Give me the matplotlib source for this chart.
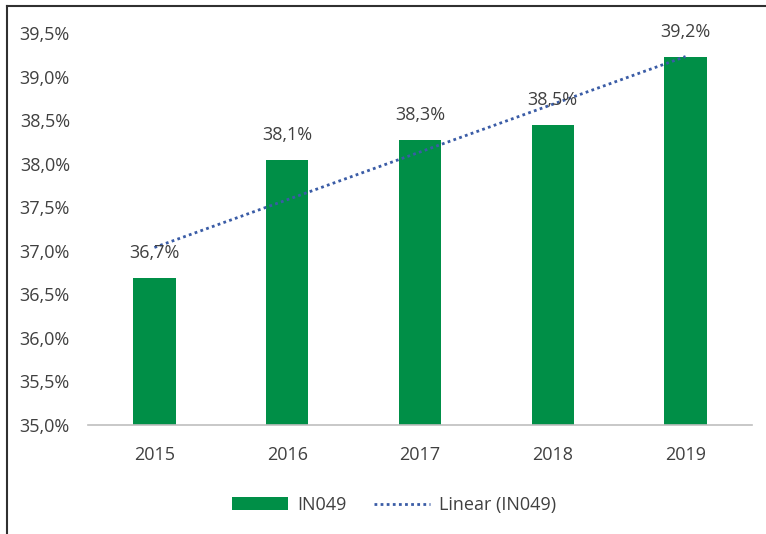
import numpy as np
import matplotlib
matplotlib.use("Agg")
import matplotlib.pyplot as plt
from matplotlib.ticker import FuncFormatter
from matplotlib.lines import Line2D
from matplotlib.patches import Patch

# chart data
years = ['2015', '2016', '2017', '2018', '2019']
values = [36.69, 38.04, 38.27, 38.44, 39.23]
value_labels = ['36,7%', '38,1%', '38,3%', '38,5%', '39,2%']

bar_color = '#008f47'
trend_color = '#3a5ca6'
text_color = '#404040'

plt.rcParams['font.family'] = ['Open Sans', 'DejaVu Sans']

fig = plt.figure(figsize=(7.66, 5.34), dpi=100)
ax = fig.add_axes([88 / 766, 1 - 425 / 534, (752 - 88) / 766, (425 - 33) / 534])

x = np.arange(len(years))
ax.bar(x, values, width=0.32, color=bar_color, bottom=0)

# linear trend line, as in Excel
slope, intercept = np.polyfit(x, values, 1)
ax.plot(x, slope * x + intercept, linestyle=(0, (1, 1.2)), color=trend_color,
        linewidth=2.0)

for xi, v, lab in zip(x, values, value_labels):
    ax.annotate(lab, (xi, v), xytext=(0, 18), textcoords='offset points',
                ha='center', va='center', fontsize=13, color=text_color)

ax.set_xlim(-0.5, 4.5)
ax.set_ylim(35, 39.5)
ax.set_xticks(x)
ax.set_xticklabels(years)
ax.set_yticks(np.arange(35, 39.51, 0.5))
ax.yaxis.set_major_formatter(FuncFormatter(lambda v, p: f'{v:.1f}%'.replace('.', ',')))
ax.tick_params(axis='both', length=0, labelsize=13, labelcolor=text_color)
ax.tick_params(axis='y', pad=13)
ax.tick_params(axis='x', pad=15)

for s in ['top', 'right', 'left']:
    ax.spines[s].set_visible(False)
ax.spines['bottom'].set_color('#bfbfbf')
ax.spines['bottom'].set_linewidth(1.2)

handles = [Patch(facecolor=bar_color, label='IN049'),
           Line2D([0], [0], linestyle=(0, (1, 1.2)), color=trend_color,
                  linewidth=2.0, label='Linear (IN049)')]
fig.legend(handles=handles, loc='center', bbox_to_anchor=(394 / 766, 1 - 505 / 534),
           ncol=2, frameon=False, fontsize=13, labelcolor=text_color,
           handlelength=3.1, handleheight=0.7, columnspacing=1.5, handletextpad=0.5)

# outer frame (left and top edges visible in the reference)
fig.add_artist(Line2D([7 / 766, 7 / 766], [0, 1 - 6 / 534], color='#303030',
                      linewidth=1.5, transform=fig.transFigure))
fig.add_artist(Line2D([7 / 766, 1], [1 - 6 / 534, 1 - 6 / 534], color='#303030',
                      linewidth=1.5, transform=fig.transFigure))

fig.savefig('out.png', dpi=100)
